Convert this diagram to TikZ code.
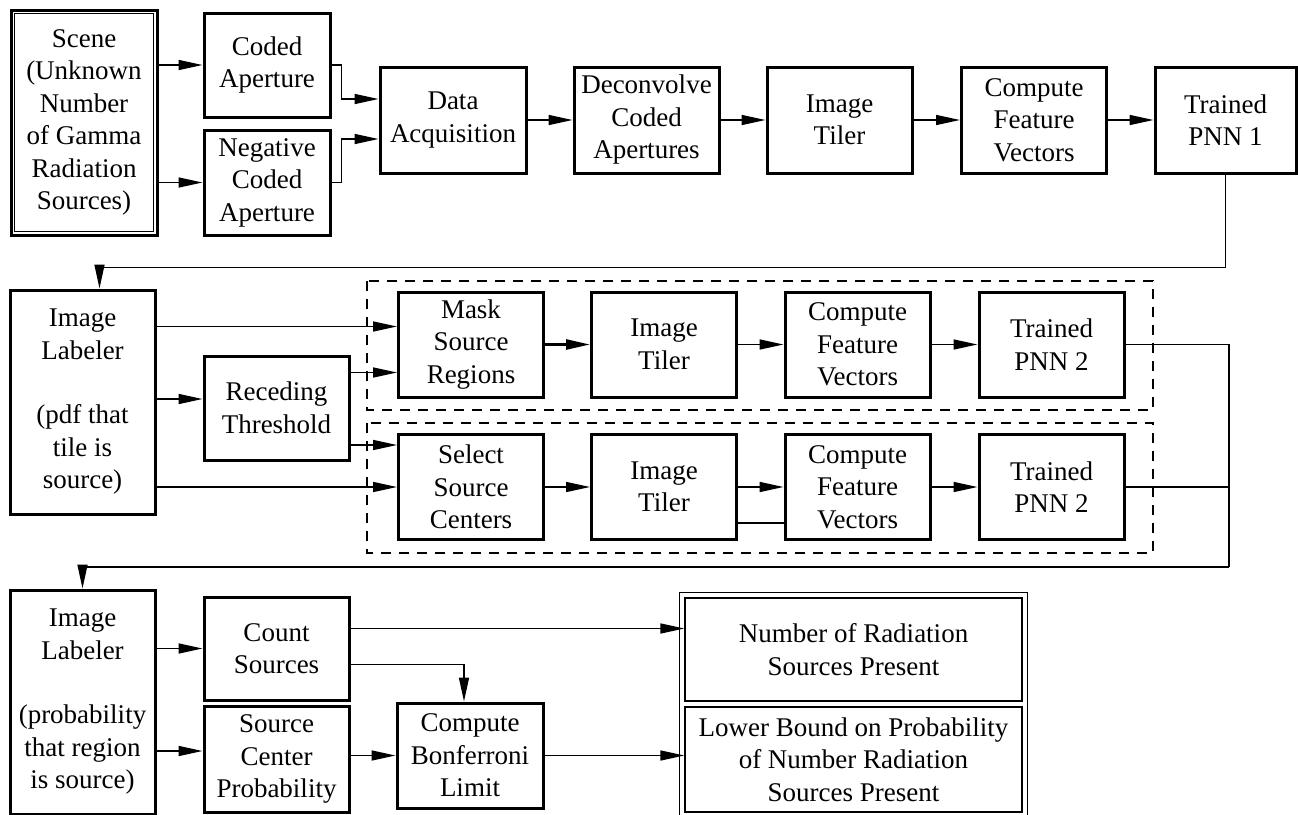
\documentclass[tikz,border=0pt]{standalone}
\usepackage{fontspec}
\setmainfont{Liberation Serif}
\usetikzlibrary{arrows.meta,calc}
\tikzset{
blk/.style={draw, line width=1.5pt, align=center, inner sep=2pt,
  minimum width=72.5pt, minimum height=52.5pt,
  font=\fontsize{13.5}{16.25}\selectfont},
outbox/.style={blk, line width=0.7pt, minimum width=168.5pt},
arr/.style={line width=0.8pt, -{Triangle[length=12pt,width=5pt]}},
link/.style={line width=0.8pt},
grp/.style={line width=0.8pt, dash pattern=on 5pt off 4pt}
}

\begin{document}
\begin{tikzpicture}[x=0.5pt,y=-0.5pt]
\useasboundingbox (0,0) rectangle (1298,815);
\node[blk, minimum width=73pt, minimum height=112.5pt] (scene) at (84,122.5) {Scene\\(Unknown\\Number\\of Gamma\\Radiation\\Sources)};
\draw[line width=0.7pt] ($(scene.north west)+(5,5)$) rectangle ($(scene.south east)+(-5,-5)$);
\node[blk, minimum width=63pt, minimum height=52pt] (coded) at (267,65) {Coded\\Aperture};
\node[blk, minimum width=63pt] (negcoded) at (267,182.5) {Negative\\Coded\\Aperture};
\node[blk, minimum width=73pt, minimum height=53pt] (dataacq) at (453,120) {Data\\Acquisition};
\node[blk, minimum height=53pt] (deconv) at (646.5,120) {Deconvolve\\Coded\\Apertures};
\node[blk, minimum height=53pt] (tiler1) at (839.5,120) {Image\\Tiler};
\node[blk, minimum height=53pt] (cfv1) at (1034,120) {Compute\\Feature\\Vectors};
\node[blk, minimum width=70.5pt, minimum height=53pt] (pnn1) at (1225.5,120) {Trained\\PNN 1};

\draw[arr] (scene.east |- coded.west) -- (coded.west);
\draw[arr] (scene.east |- negcoded.west) -- (negcoded.west);
\draw[arr] (coded.east) -- ++(10,0) |- ($(dataacq.west)+(0,-21)$);
\draw[arr] (negcoded.east) -- ++(10,0) |- ($(dataacq.west)+(0,19)$);
\draw[arr] (dataacq) -- (deconv);
\draw[arr] (deconv) -- (tiler1);
\draw[arr] (tiler1) -- (cfv1);
\draw[arr] (cfv1) -- (pnn1);

\node[blk, minimum height=112pt] (il1) at (82.5,402) {Image\\Labeler\\[16pt](pdf that\\tile is\\source)};
\node[blk, minimum height=52pt] (recede) at (276.5,408) {Receding\\Threshold};
\node[blk] (mask) at (471,344.5) {Mask\\Source\\Regions};
\node[blk] (tiler2) at (664,344.5) {Image\\Tiler};
\node[blk] (cfv2) at (857.5,344.5) {Compute\\Feature\\Vectors};
\node[blk] (pnn2a) at (1051.5,344.5) {Trained\\PNN 2};
\node[blk] (select) at (471,487) {Select\\Source\\Centers};
\node[blk] (tiler3) at (664,487) {Image\\Tiler};
\node[blk] (cfv3) at (857.5,487) {Compute\\Feature\\Vectors};
\node[blk] (pnn2b) at (1051.5,487) {Trained\\PNN 2};
\draw[grp] (367,281) rectangle (1153,410);
\draw[grp] (367,423) rectangle (1153,553);

\draw[arr] (pnn1.south) -- ++(0,93) -| ($(il1.north)+(17,0)$);
\coordinate (m1) at ($(mask.west)+(0,-18)$);
\coordinate (m2) at ($(mask.west)+(0,28)$);
\coordinate (r1) at ($(recede.west)+(0,-9)$);
\coordinate (s1) at ($(select.west)+(0,-42)$);
\draw[arr] (il1.east |- m1) -- (m1);
\draw[arr] (il1.east |- r1) -- (r1);
\draw[arr] (recede.east |- m2) -- (m2);
\draw[arr] (recede.east |- s1) -- (s1);
\draw[arr] (il1.east |- select.west) -- (select.west);
\draw[arr, line width=1.3pt] (mask) -- (tiler2);
\draw[arr] (tiler2) -- (cfv2);
\draw[arr] (cfv2) -- (pnn2a);
\draw[arr] (select) -- (tiler3);
\draw[arr] (tiler3) -- (cfv3);
\draw[link, line width=1.3pt] ($(tiler3.east)+(0,36)$) -- ($(cfv3.west)+(0,36)$);
\draw[arr] (cfv3) -- (pnn2b);
\coordinate (jn) at (1229,567);
\draw[link] (pnn2a.east) -| (jn);
\draw[link] (pnn2b.east) -- (pnn2b.east -| jn);

\node[blk, minimum height=112pt] (il2) at (82.5,702) {Image\\Labeler\\[16pt](probability\\that region\\is source)};
\node[blk, minimum height=51.5pt] (count) at (276.5,648.5) {Count\\Sources};
\node[blk, minimum height=53pt] (scp) at (276.5,759) {Source\\Center\\Probability};
\node[blk, minimum width=73pt] (bonf) at (470,755.5) {Compute\\Bonferroni\\Limit};
\node[outbox, minimum height=51.5pt] (numsrc) at (853.5,649.5) {Number of Radiation\\Sources Present};
\node[outbox] (lowbnd) at (853.5,759.5) {Lower Bound on Probability\\of Number Radiation\\Sources Present};
\draw[line width=0.7pt] ($(numsrc.north west)+(-5,-5)$) rectangle ($(lowbnd.south east)+(5,5)$);

\draw[arr] (jn) -| (il2.north);
\coordinate (p1) at ($(scp.west)+(0,-8)$);
\coordinate (k1) at ($(count.east)+(0,-20)$);
\draw[arr] (il2.east |- count.west) -- (count.west);
\draw[arr] (il2.east |- p1) -- (p1);
\draw[arr] (k1) -- (k1 -| numsrc.west);
\draw[arr] ($(count.east)+(0,16)$) -| ($(bonf.north)+(-6,0)$);
\draw[arr] (scp.east |- bonf.west) -- (bonf.west);
\draw[arr] (bonf.east) -- (bonf.east -| lowbnd.west);
\end{tikzpicture}
\end{document}
